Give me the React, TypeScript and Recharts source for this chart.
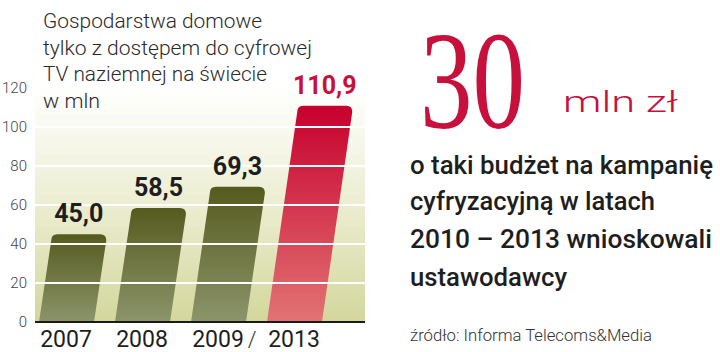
import { BarChart, Bar, XAxis, YAxis, CartesianGrid, ReferenceLine, Cell, LabelList } from "recharts"

const years = ["2007", "2008", "2009", "2013"]
const households = [45.0, 58.5, 69.3, 110.9]
const yTicks = [0, 20, 40, 60, 80, 100, 120]
const gridValues = [20, 40, 60, 80, 100]

const titleLines = ["Gospodarstwa domowe", "tylko z dostępem do cyfrowej", "TV naziemnej na świecie", "w mln"]
const bodyLines = ["o taki budżet na kampanię", "cyfryzacyjną w latach", "2010 – 2013 wnioskowali", "ustawodawcy"]
const bigNumber = "30"
const bigUnit = "mln zł"
const sourceText = "źródło: Informa Telecoms&Media"

const RED = "#c8103c"
const SLANT = 0.14

const data = years.map((year, i) => ({ year, value: households[i] }))

const titleWidths = [219, 269, 224, 57]
const bodyWidths = [303, 245, 302, 157]
const bodyBaselines = [174, 210, 248, 286]

function fmt(v: number): string {
  return v.toFixed(1).replace(".", ",")
}

function SlantBar(props: any) {
  const { x, y, width, height, fill } = props
  if (!height || height <= 0) return null
  const dx = height * SLANT
  const r = 6
  const d = [
    `M${x},${y + height}`,
    `L${x + dx},${y + r}`,
    `Q${x + dx},${y} ${x + dx + r},${y}`,
    `L${x + width + dx - r},${y}`,
    `Q${x + width + dx},${y} ${x + width + dx},${y + r}`,
    `L${x + width},${y + height}`,
    "Z",
  ].join(" ")
  return <path d={d} fill={fill} />
}

function ValueLabel(props: any) {
  const { x, y, width, height, value, index } = props
  const cx = x + width / 2 + height * SLANT
  return (
    <text
      x={cx}
      y={y - 12}
      textAnchor="middle"
      fontFamily="Roboto"
      fontWeight={700}
      fontSize={25}
      fill={index === 3 ? RED : "#1e1e1e"}
    >
      {fmt(Number(value))}
    </text>
  )
}

const yTick = { fontFamily: "Roboto", fontWeight: 300, fontSize: 15, fill: "#444" }
const xTick = { fontFamily: "Roboto", fontSize: 23, fill: "#1e1e1e" }

export default function App() {
  return (
    <div style={{ position: "fixed", left: 0, top: 0, width: 720, height: 352, background: "#fff", overflow: "hidden" }}>
      <svg width={0} height={0} style={{ position: "absolute" }}>
        <defs>
          <linearGradient id="bgGrad" x1="0" y1="0" x2="0" y2="1">
            <stop offset="0%" stopColor="#ffffff" />
            <stop offset="45%" stopColor="#eeefd6" />
            <stop offset="100%" stopColor="#d3d79c" />
          </linearGradient>
          <linearGradient id="oliveGrad" x1="0" y1="0" x2="0" y2="1">
            <stop offset="0%" stopColor="#555b1e" />
            <stop offset="100%" stopColor="#8c946b" />
          </linearGradient>
          <linearGradient id="redGrad" x1="0" y1="0" x2="0" y2="1">
            <stop offset="0%" stopColor="#c7002e" />
            <stop offset="100%" stopColor="#e27474" />
          </linearGradient>
        </defs>
      </svg>

      <div style={{ position: "absolute", left: 0, top: 0 }}>
        <BarChart width={380} height={352} data={data} margin={{ top: 88, right: 15, bottom: 0, left: 0 }}>
          <CartesianGrid horizontal={false} vertical={false} fill="url(#bgGrad)" stroke="none" />
          <YAxis
            domain={[0, 120]}
            ticks={yTicks}
            width={35}
            axisLine={false}
            tickLine={false}
            tickSize={0}
            tickMargin={8}
            tick={yTick}
            interval={0}
          />
          <XAxis
            dataKey="year"
            height={30}
            padding={{ left: -7, right: 33 }}
            axisLine={{ stroke: "#1a1a1a", strokeWidth: 2 }}
            tickLine={false}
            tickSize={0}
            tickMargin={9}
            tick={xTick}
            interval={0}
          />
          <Bar dataKey="value" barSize={55} shape={SlantBar} isAnimationActive={false}>
            {data.map((d, i) => (
              <Cell key={d.year} fill={i === 3 ? "url(#redGrad)" : "url(#oliveGrad)"} />
            ))}
            <LabelList dataKey="value" content={ValueLabel} />
          </Bar>
          {gridValues.map((v) => (
            <ReferenceLine key={v} y={v} stroke="#ffffff" strokeWidth={2} />
          ))}
        </BarChart>
      </div>

      <svg width={720} height={352} style={{ position: "absolute", left: 0, top: 0, pointerEvents: "none" }}>
        {titleLines.map((line, i) => (
          <text
            key={line}
            x={43}
            y={28 + i * 26.7}
            fontFamily="Roboto"
            fontWeight={300}
            fontSize={21}
            fill="#2a2a2a"
            textLength={titleWidths[i]}
            lengthAdjust="spacingAndGlyphs"
          >
            {line}
          </text>
        ))}
        <text x={252} y={347} textAnchor="middle" fontFamily="Roboto" fontWeight={300} fontSize={22} fill="#333">
          /
        </text>
        <text
          x={420}
          y={128}
          fontFamily="Liberation Serif"
          fontSize={140}
          fill={RED}
          textLength={105}
          lengthAdjust="spacingAndGlyphs"
        >
          {bigNumber}
        </text>
        <text
          x={563}
          y={112}
          fontFamily="Roboto"
          fontWeight={300}
          fontSize={30}
          fill={RED}
          textLength={115}
          lengthAdjust="spacingAndGlyphs"
        >
          {bigUnit}
        </text>
        {bodyLines.map((line, i) => (
          <text
            key={line}
            x={410}
            y={bodyBaselines[i]}
            fontFamily="Roboto"
            fontWeight={500}
            fontSize={25}
            fill="#1e1e1e"
            textLength={bodyWidths[i]}
            lengthAdjust="spacingAndGlyphs"
          >
            {line}
          </text>
        ))}
        <text
          x={410}
          y={341}
          fontFamily="Roboto"
          fontWeight={300}
          fontSize={17}
          fill="#333"
          textLength={242}
          lengthAdjust="spacingAndGlyphs"
        >
          {sourceText}
        </text>
      </svg>
    </div>
  )
}
